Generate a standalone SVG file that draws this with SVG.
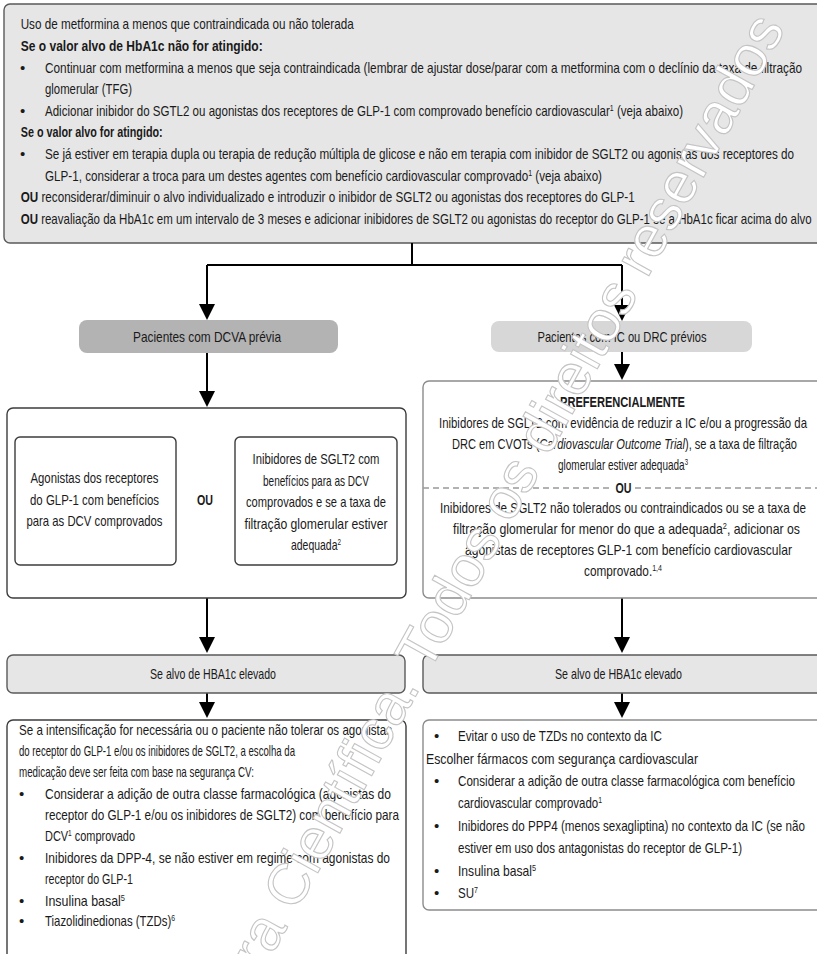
<svg xmlns="http://www.w3.org/2000/svg" width="817" height="954" viewBox="0 0 817 954">
<style>
.t{font-family:"Liberation Sans",Arial,sans-serif;font-size:15px;fill:#1a1a1a}
.b{font-weight:bold}
.c{text-anchor:middle}
.i{font-style:italic}
.sup{font-size:9px}
.box{fill:#fff;stroke:#3c3c3c;stroke-width:1.4}
.boxl{fill:#fff;stroke:#8c8c8c;stroke-width:1.4}
.grey{fill:#e6e6e6;stroke:#5a5a5a;stroke-width:1.4}
.conn{fill:none;stroke:#000;stroke-width:2}
.wm{font-family:"Liberation Sans",Arial,sans-serif;font-size:58px;fill:#fff;stroke:#c4c4c4;stroke-width:1.1}
</style>
<defs>
<marker id="ah" markerUnits="userSpaceOnUse" markerWidth="16" markerHeight="16" refX="13" refY="8" orient="auto">
<path d="M0,0 L16,8 L0,16 z" fill="#000"/>
</marker>
</defs>
<rect width="817" height="954" fill="#fff"/>

<g id="top">
<rect class="grey" x="4" y="4" width="830" height="239" rx="6"/>
<text class="t" x="20.7" y="29" textLength="333" lengthAdjust="spacingAndGlyphs">Uso de metformina a menos que contraindicada ou não tolerada</text>
<text class="t b" x="20.7" y="51" textLength="242" lengthAdjust="spacingAndGlyphs">Se o valor alvo de HbA1c não for atingido:</text>
<text class="t" x="20" y="72.5">•</text>
<text class="t" x="45" y="72.5" textLength="757" lengthAdjust="spacingAndGlyphs">Continuar com metformina a menos que seja contraindicada (lembrar de ajustar dose/parar com a metformina com o declínio da taxa de filtração</text>
<text class="t" x="45" y="94" textLength="87" lengthAdjust="spacingAndGlyphs">glomerular (TFG)</text>
<text class="t" x="20" y="115.5">•</text>
<text class="t" x="45" y="115.5" textLength="638" lengthAdjust="spacingAndGlyphs">Adicionar inibidor do SGTL2 ou agonistas dos receptores de GLP-1 com comprovado benefício cardiovascular<tspan class="sup" dy="-5">1</tspan><tspan dy="5"> (veja abaixo)</tspan></text>
<text class="t b" x="20.7" y="137" textLength="142" lengthAdjust="spacingAndGlyphs">Se o valor alvo for atingido:</text>
<text class="t" x="20" y="159">•</text>
<text class="t" x="45" y="159" textLength="749" lengthAdjust="spacingAndGlyphs">Se já estiver em terapia dupla ou terapia de redução múltipla de glicose e não em terapia com inibidor de SGLT2 ou agonistas dos receptores do</text>
<text class="t" x="45" y="180.5" textLength="557" lengthAdjust="spacingAndGlyphs">GLP-1, considerar a troca para um destes agentes com benefício cardiovascular comprovado<tspan class="sup" dy="-5">1</tspan><tspan dy="5"> (veja abaixo)</tspan></text>
<text class="t" x="20.7" y="202" textLength="614" lengthAdjust="spacingAndGlyphs"><tspan class="b">OU</tspan> reconsiderar/diminuir o alvo individualizado e introduzir o inibidor de SGLT2 ou agonistas dos receptores do GLP-1</text>
<text class="t" x="20.7" y="223.5" textLength="791" lengthAdjust="spacingAndGlyphs"><tspan class="b">OU</tspan> reavaliação da HbA1c em um intervalo de 3 meses e adicionar inibidores de SGLT2 ou agonistas do receptor do GLP-1 se a HbA1c ficar acima do alvo</text>
</g>

<g id="connectors">
<path class="conn" d="M412,243 V265 M207,265 H622"/>
<path class="conn" d="M207,265 V317" marker-end="url(#ah)"/>
<path class="conn" d="M622,265 V318" marker-end="url(#ah)"/>
<path class="conn" d="M207,353 V404" marker-end="url(#ah)"/>
<path class="conn" d="M622,352 V377" marker-end="url(#ah)"/>
<path class="conn" d="M207,598 V650" marker-end="url(#ah)"/>
<path class="conn" d="M622,598 V650" marker-end="url(#ah)"/>
<path class="conn" d="M207,693 V715" marker-end="url(#ah)"/>
<path class="conn" d="M622,693 V715" marker-end="url(#ah)"/>
</g>

<g id="pill-dcva">
<rect x="79" y="320" width="259" height="33" rx="8" fill="#b3b3b3"/>
<text class="t c" x="207" y="341.5" textLength="148" lengthAdjust="spacingAndGlyphs">Pacientes com DCVA prévia</text>
</g>

<g id="pill-ic">
<rect x="491" y="321" width="261" height="31" rx="8" fill="#d7d7d7"/>
<text class="t c" x="622" y="341.5" textLength="169" lengthAdjust="spacingAndGlyphs">Pacientes com IC ou DRC prévios</text>
</g>

<g id="dcva-options">
<rect class="box" x="7" y="408" width="399" height="190" rx="6"/>
<g id="opt-glp1">
<rect class="box" x="15" y="437" width="161" height="128" rx="5"/>
<text class="t c" x="94.5" y="483" textLength="128" lengthAdjust="spacingAndGlyphs">Agonistas dos receptores</text>
<text class="t c" x="94.5" y="504.5" textLength="129" lengthAdjust="spacingAndGlyphs">do GLP-1 com benefícios</text>
<text class="t c" x="94.5" y="526" textLength="136" lengthAdjust="spacingAndGlyphs">para as DCV comprovados</text>
</g>
<text class="t b c" x="205" y="505" textLength="16" lengthAdjust="spacingAndGlyphs">OU</text>
<g id="opt-sglt2">
<rect class="box" x="235" y="437" width="162" height="128" rx="5"/>
<text class="t c" x="316" y="464" textLength="127" lengthAdjust="spacingAndGlyphs">Inibidores de SGLT2 com</text>
<text class="t c" x="316" y="485.5" textLength="106" lengthAdjust="spacingAndGlyphs">benefícios para as DCV</text>
<text class="t c" x="316" y="507" textLength="140" lengthAdjust="spacingAndGlyphs">comprovados e se a taxa de</text>
<text class="t c" x="316" y="528.5" textLength="143" lengthAdjust="spacingAndGlyphs">filtração glomerular estiver</text>
<text class="t c" x="316" y="550" textLength="50" lengthAdjust="spacingAndGlyphs">adequada<tspan class="sup" dy="-5">2</tspan></text>
</g>
</g>

<g id="ic-options">
<rect class="boxl" x="423" y="381" width="410" height="217" rx="6"/>
<text class="t b c" x="622.5" y="407" textLength="125" lengthAdjust="spacingAndGlyphs">PREFERENCIALMENTE</text>
<text class="t c" x="623" y="428" textLength="368" lengthAdjust="spacingAndGlyphs">Inibidores de SGLT2 com evidência de reduzir a IC e/ou a progressão da</text>
<text class="t c" x="624.5" y="449" textLength="345" lengthAdjust="spacingAndGlyphs">DRC em CVOTs (<tspan class="i">Cardiovascular Outcome Trial</tspan>), se a taxa de filtração</text>
<text class="t c" x="623" y="470" textLength="130" lengthAdjust="spacingAndGlyphs">glomerular estiver adequada<tspan class="sup" dy="-5">3</tspan></text>
<path d="M423,488 H612 M635,488 H817" fill="none" stroke="#999" stroke-width="1.3" stroke-dasharray="6 4"/>
<text class="t b c" x="623.5" y="493" textLength="16" lengthAdjust="spacingAndGlyphs">OU</text>
<text class="t c" x="623" y="513" textLength="366" lengthAdjust="spacingAndGlyphs">Inibidores de SGLT2 não tolerados ou contraindicados ou se a taxa de</text>
<text class="t c" x="626.5" y="534" textLength="347" lengthAdjust="spacingAndGlyphs">filtração glomerular for menor do que a adequada<tspan class="sup" dy="-5">2</tspan><tspan dy="5">, adicionar os</tspan></text>
<text class="t c" x="628.5" y="555" textLength="327" lengthAdjust="spacingAndGlyphs">agonistas de receptores GLP-1 com benefício cardiovascular</text>
<text class="t c" x="623" y="576" textLength="78" lengthAdjust="spacingAndGlyphs">comprovado.<tspan class="sup" dy="-5">1,4</tspan></text>
</g>

<g id="hba1c-left">
<rect class="grey" x="7" y="655" width="398" height="38" rx="6"/>
<text class="t c" x="213" y="679" textLength="126" lengthAdjust="spacingAndGlyphs">Se alvo de HBA1c elevado</text>
</g>

<g id="hba1c-right">
<rect class="grey" x="423" y="655" width="410" height="38" rx="6"/>
<text class="t c" x="618.5" y="679" textLength="127" lengthAdjust="spacingAndGlyphs">Se alvo de HBA1c elevado</text>
</g>

<g id="cv-safety-left">
<rect class="box" x="7" y="720" width="399" height="260" rx="6"/>
<text class="t" x="19" y="734.5" textLength="373" lengthAdjust="spacingAndGlyphs">Se a intensificação for necessária ou o paciente não tolerar os agonistas</text>
<text class="t" x="19" y="756" textLength="276" lengthAdjust="spacingAndGlyphs">do receptor do GLP-1 e/ou os inibidores de SGLT2, a escolha da</text>
<text class="t" x="19" y="777" textLength="235" lengthAdjust="spacingAndGlyphs">medicação deve ser feita com base na segurança CV:</text>
<text class="t" x="19" y="799">•</text>
<text class="t" x="45" y="799" textLength="346" lengthAdjust="spacingAndGlyphs">Considerar a adição de outra classe farmacológica (agonistas do</text>
<text class="t" x="45" y="820" textLength="354" lengthAdjust="spacingAndGlyphs">receptor do GLP-1 e/ou os inibidores de SGLT2) com benefício para</text>
<text class="t" x="45" y="841" textLength="90" lengthAdjust="spacingAndGlyphs">DCV<tspan class="sup" dy="-5">1</tspan><tspan dy="5"> comprovado</tspan></text>
<text class="t" x="19" y="862.5">•</text>
<text class="t" x="45" y="862.5" textLength="345" lengthAdjust="spacingAndGlyphs">Inibidores da DPP-4, se não estiver em regime com agonistas do</text>
<text class="t" x="45" y="884" textLength="88" lengthAdjust="spacingAndGlyphs">receptor do GLP-1</text>
<text class="t" x="19" y="905.5">•</text>
<text class="t" x="45" y="905.5" textLength="80" lengthAdjust="spacingAndGlyphs">Insulina basal<tspan class="sup" dy="-5">5</tspan></text>
<text class="t" x="19" y="926">•</text>
<text class="t" x="45" y="926" textLength="130" lengthAdjust="spacingAndGlyphs">Tiazolidinedionas (TZDs)<tspan class="sup" dy="-5">6</tspan></text>
</g>

<g id="cv-safety-right">
<rect class="boxl" x="423" y="720" width="410" height="190" rx="6"/>
<text class="t" x="434" y="741">•</text>
<text class="t" x="458" y="741" textLength="204" lengthAdjust="spacingAndGlyphs">Evitar o uso de TZDs no contexto da IC</text>
<text class="t" x="426" y="763.5" textLength="272" lengthAdjust="spacingAndGlyphs">Escolher fármacos com segurança cardiovascular</text>
<text class="t" x="434" y="786">•</text>
<text class="t" x="458" y="786" textLength="337" lengthAdjust="spacingAndGlyphs">Considerar a adição de outra classe farmacológica com benefício</text>
<text class="t" x="458" y="808" textLength="144" lengthAdjust="spacingAndGlyphs">cardiovascular comprovado<tspan class="sup" dy="-5">1</tspan></text>
<text class="t" x="434" y="830.5">•</text>
<text class="t" x="458" y="830.5" textLength="347" lengthAdjust="spacingAndGlyphs">Inibidores do PPP4 (menos sexagliptina) no contexto da IC (se não</text>
<text class="t" x="458" y="853" textLength="284" lengthAdjust="spacingAndGlyphs">estiver em uso dos antagonistas do receptor de GLP-1)</text>
<text class="t" x="434" y="875.5">•</text>
<text class="t" x="458" y="875.5" textLength="78" lengthAdjust="spacingAndGlyphs">Insulina basal<tspan class="sup" dy="-5">5</tspan></text>
<text class="t" x="434" y="898">•</text>
<text class="t" x="458" y="898" textLength="20" lengthAdjust="spacingAndGlyphs">SU<tspan class="sup" dy="-5">7</tspan></text>
</g>

<g id="watermark">
<text class="wm" transform="translate(263,972) rotate(-61)">ra Científica. Todos os direitos reservados</text>
</g>
</svg>
